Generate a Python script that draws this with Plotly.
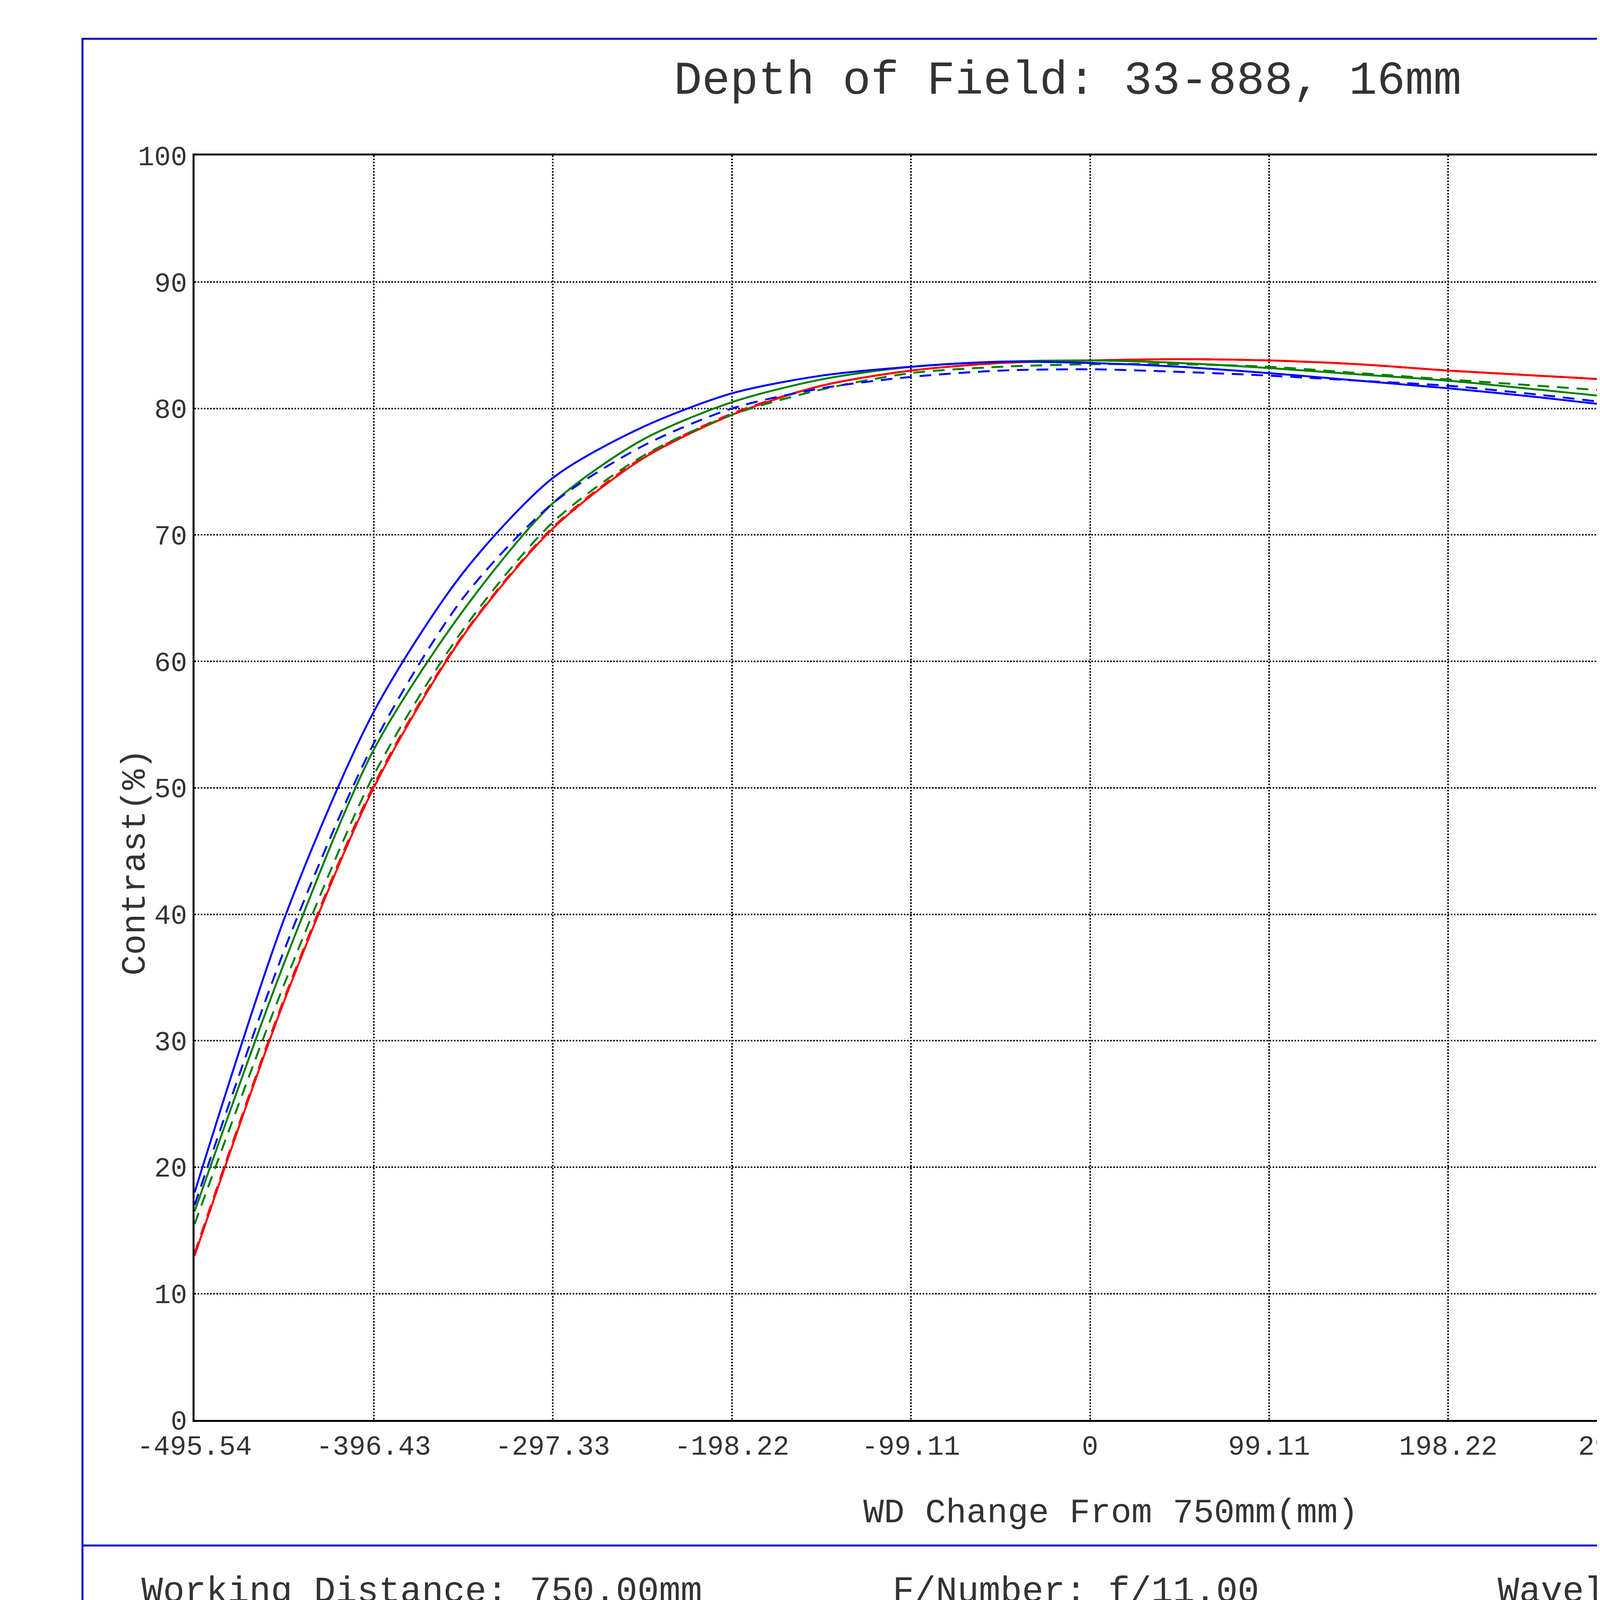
import plotly.graph_objects as go

x = [-495.54, -445.0, -396.43, -347.0, -297.33, -248.0, -198.22, -148.7, -99.11, -49.6, 0, 49.6, 99.11, 148.7, 198.22, 247.8, 297.33, 346.9, 396.43, 446.0, 495.54]
red_solid = [13.0, 33.5, 50.0, 62.0, 70.5, 76.0, 79.5, 81.8, 83.0, 83.6, 83.8, 83.9, 83.8, 83.5, 83.0, 82.6, 82.2, 81.8, 81.3, 80.8, 80.3]
red_dash = [13.2, 33.7, 50.2, 62.1, 70.6, 76.1, 79.6, 81.8, 83.0, 83.6, 83.8, 83.9, 83.8, 83.5, 83.0, 82.6, 82.2, 81.8, 81.3, 80.8, 80.3]
green_solid = [16.5, 36.5, 53.0, 64.0, 72.5, 77.5, 80.5, 82.3, 83.3, 83.7, 83.8, 83.6, 83.2, 82.7, 82.2, 81.5, 80.8, 80.3, 79.8, 79.3, 78.8]
green_dash = [15.5, 34.8, 51.0, 62.5, 71.0, 76.2, 79.5, 81.5, 82.8, 83.3, 83.5, 83.5, 83.3, 82.8, 82.3, 81.8, 81.3, 80.8, 80.3, 79.9, 79.5]
blue_solid = [18.0, 40.0, 56.0, 67.0, 74.5, 78.5, 81.2, 82.6, 83.3, 83.7, 83.6, 83.3, 82.8, 82.2, 81.6, 80.9, 80.1, 79.4, 78.8, 78.1, 77.5]
blue_dash = [17.0, 37.5, 53.5, 65.0, 72.5, 77.0, 80.0, 81.6, 82.5, 83.0, 83.1, 82.9, 82.6, 82.2, 81.8, 81.1, 80.3, 79.7, 79.2, 78.6, 78.0]
xticks = [-495.54, -396.43, -297.33, -198.22, -99.11, 0, 99.11, 198.22, 297.33, 396.43, 495.54]
yticks = [0, 10, 20, 30, 40, 50, 60, 70, 80, 90, 100]
legend_labels = ["TS,0.00mm", "TS,3.00mm", "TS,3.99mm"]
colors = ["#ff0000", "#008000", "#0000ff"]

fig = go.Figure()
series = [(red_solid, red_dash), (green_solid, green_dash), (blue_solid, blue_dash)]
for (s, d), c in zip(series, colors):
    fig.add_trace(go.Scatter(x=x, y=s, mode="lines", line=dict(color=c, width=5, shape="spline", smoothing=0.8), showlegend=False))
    fig.add_trace(go.Scatter(x=x, y=d, mode="lines", line=dict(color=c, width=5, dash="30px,20px", shape="spline", smoothing=0.8), showlegend=False))

F = "Liberation Mono, Courier New, monospace"
ax = dict(showline=True, linecolor="black", linewidth=5, mirror=True, showgrid=True,
          gridcolor="black", griddash="dot", gridwidth=4, zeroline=False, ticks="",
          tickfont=dict(family=F, size=70, color="#333"))
fig.update_layout(
    width=6118, height=4327, paper_bgcolor="white", plot_bgcolor="white",
    margin=dict(l=0, r=0, t=0, b=0),
    xaxis=dict(ax, domain=[0.0587, 0.8431], range=[-495.54, 495.54], tickvals=xticks,
               ticktext=[f"{v:g}" if v != 0 else "0" for v in xticks]),
    yaxis=dict(ax, domain=[0.1541, 0.9161], range=[0, 100], tickvals=yticks),
)
ann = [
    dict(text="Depth of Field: 33-888, 16mm", x=0.441, y=0.961, size=120),
    dict(text="WD Change From 750mm(mm)", x=0.46, y=0.098, size=88),
    dict(text="Working Distance: 750.00mm", x=0.035, y=0.0504, size=92, xanchor="left"),
    dict(text="F/Number: f/11.00", x=0.364, y=0.0504, size=92, xanchor="left"),
    dict(text="Wavelength Range: 486nm-656nm", x=0.629, y=0.0504, size=92, xanchor="left"),
    dict(text="Fields", x=0.8533, y=0.714, size=72, xanchor="left"),
]
for a in ann:
    fig.add_annotation(text=a["text"], x=a["x"], y=a["y"], xref="paper", yref="paper",
                       xanchor=a.get("xanchor", "center"), yanchor="middle", showarrow=False,
                       font=dict(family=F, size=a["size"], color="#333"))
fig.add_annotation(text="Contrast(%)", x=0.024, y=0.4904, xref="paper", yref="paper", textangle=-90,
                   showarrow=False, font=dict(family=F, size=88, color="#333"))
for i, (lab, c) in enumerate(zip(legend_labels, colors)):
    yy = [0.676, 0.638, 0.600][i]
    fig.add_annotation(text=lab, x=0.877, y=yy, xref="paper", yref="paper", xanchor="left",
                       yanchor="middle", showarrow=False, font=dict(family=F, size=72, color="#333"))
    fig.add_shape(type="line", xref="paper", yref="paper", x0=0.8533, x1=0.8673, y0=yy + 0.002, y1=yy + 0.002,
                  line=dict(color=c, width=5))
    fig.add_shape(type="line", xref="paper", yref="paper", x0=0.8533, x1=0.8673, y0=yy - 0.0025, y1=yy - 0.0025,
                  line=dict(color=c, width=5, dash="20px,10px"))
fig.add_shape(type="rect", xref="paper", yref="paper", x0=0.0096, x1=0.9898, y0=0.0162, y1=0.9865,
              line=dict(color="#0000cc", width=5))
fig.add_shape(type="line", xref="paper", yref="paper", x0=0.0096, x1=0.9898, y0=0.0785, y1=0.0785,
              line=dict(color="#0000cc", width=5))
fig.add_shape(type="line", xref="paper", yref="paper", x0=0, x1=1, y0=0.0036, y1=0.0036,
              line=dict(color="black", width=8))
fig.write_html("out.html")
